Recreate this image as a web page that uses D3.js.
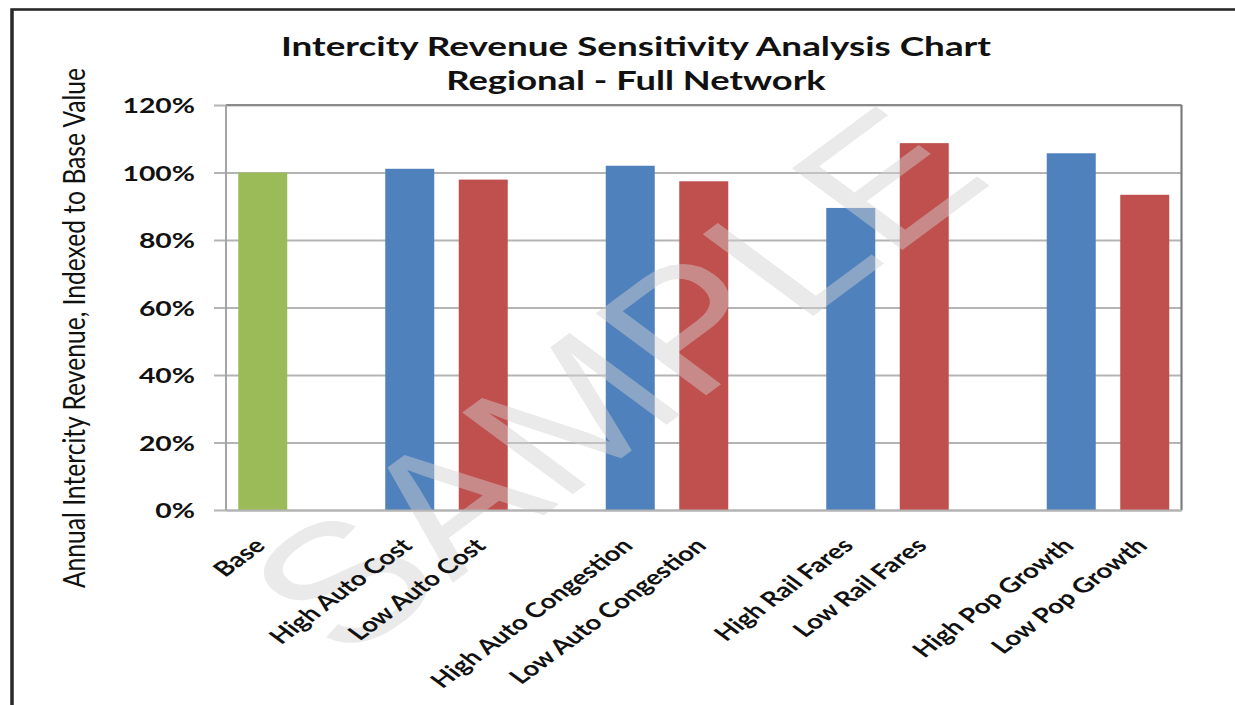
<!DOCTYPE html>
<html><head><meta charset="utf-8">
<script src="https://cdn.jsdelivr.net/npm/d3@7"></script>
<style>html,body{margin:0;padding:0;background:#fff;overflow:hidden}</style>
</head><body>
<svg id="chart" width="1235" height="705"></svg>
<script>
// ---- data ----
const categories = ["Base", "", "High Auto Cost", "Low Auto Cost", "", "High Auto Congestion", "Low Auto Congestion", "", "High Rail Fares", "Low Rail Fares", "", "High Pop Growth", "Low Pop Growth"];
const values = [1.000, null, 1.011, 0.979, null, 1.020, 0.974, null, 0.895, 1.087, null, 1.057, 0.934];
const scenarioType = ["base", null, "high", "low", null, "high", "low", null, "high", "low", null, "high", "low"];
const yTickValues = [0, 0.2, 0.4, 0.6, 0.8, 1.0, 1.2];
const titleLines = ["Intercity Revenue Sensitivity Analysis Chart", "Regional - Full Network"];
const yAxisTitle = "Annual Intercity Revenue, Indexed to Base Value";
const watermarkText = "SAMPLE";
const typeColors = {base: "#9BBB59", high: "#4F81BD", low: "#C0504D"};

// ---- layout (reference is horizontally stretched) ----
const SX = 1.35, W = 1235 / SX, H = 705;
const px = v => v / SX;
const pLeft = px(226), pRight = px(1181.5), pTop = 105, pBottom = 510;

const svg = d3.select("#chart")
  .attr("viewBox", `0 0 ${W} ${H}`)
  .attr("preserveAspectRatio", "none");

svg.append("rect").attr("width", W).attr("height", H).attr("fill", "#fff");

// outer frame
svg.append("rect")
  .attr("x", px(12)).attr("y", 9.5)
  .attr("width", W + 20).attr("height", H + 20)
  .attr("fill", "none").attr("stroke", "#2a2a2a").attr("stroke-width", 2.6);

const x = d3.scaleBand()
  .domain(d3.range(categories.length))
  .range([pLeft, pRight])
  .paddingInner(1 / 3).paddingOuter(1 / 6);
const y = d3.scaleLinear().domain([0, 1.2]).range([pBottom, pTop]);

// gridlines + y labels
const yAxis = svg.append("g")
  .attr("transform", `translate(${pLeft},0)`)
  .call(d3.axisLeft(y).tickValues(yTickValues).tickFormat(d3.format(".0%")).tickSizeOuter(0));
yAxis.select(".domain").remove();
yAxis.selectAll(".tick line")
  .attr("x1", -(226 - 214) / SX).attr("x2", pRight - pLeft)
  .attr("stroke", "#b4b4b4").attr("stroke-width", 1.8);
yAxis.selectAll(".tick text")
  .attr("x", -(226 - 195) / SX).attr("dy", "0.36em")
  .attr("text-anchor", "end")
  .style("font-family", "Lato, 'Open Sans', sans-serif")
  .style("font-weight", 700).style("font-size", "21px").attr("fill", "#111");

// plot border (top/right darker, left axis)
svg.append("line").attr("x1", pLeft).attr("x2", pRight).attr("y1", pTop).attr("y2", pTop)
  .attr("stroke", "#8a8a8a").attr("stroke-width", 2);
svg.append("line").attr("x1", pRight).attr("x2", pRight).attr("y1", pTop).attr("y2", pBottom)
  .attr("stroke", "#7a7a7a").attr("stroke-width", 1.6);
svg.append("line").attr("x1", pLeft).attr("x2", pLeft).attr("y1", pTop).attr("y2", pBottom)
  .attr("stroke", "#a0a0a0").attr("stroke-width", 1.4);

// bars
const idx = d3.range(categories.length).filter(i => values[i] != null);
svg.append("g").selectAll("rect").data(idx).join("rect")
  .attr("x", i => x(i))
  .attr("width", x.bandwidth())
  .attr("y", i => y(values[i]))
  .attr("height", i => y(0) - y(values[i]))
  .attr("fill", i => typeColors[scenarioType[i]]);

// watermark
svg.append("text")
  .attr("transform", `translate(${px(615)},380) rotate(-45)`)
  .attr("text-anchor", "middle").attr("dominant-baseline", "central")
  .style("font-family", "'Liberation Sans', Arial, sans-serif")
  .style("font-size", "168px")
  .attr("fill", "#d2d2d2").attr("opacity", 0.45)
  .text(watermarkText);

// x axis
const xAxis = svg.append("g")
  .attr("transform", `translate(0,${pBottom})`)
  .call(d3.axisBottom(x).tickFormat(i => categories[i]).tickSize(0));
xAxis.select(".domain").attr("stroke", "#b4b4b4").attr("stroke-width", 1.8);
xAxis.selectAll(".tick text")
  .attr("y", 0).attr("dy", 0)
  .attr("text-anchor", "end")
  .attr("transform", "translate(3,37) rotate(-45)")
  .style("font-family", "Lato, 'Open Sans', sans-serif")
  .style("font-weight", 700).style("font-size", "20.5px").attr("fill", "#111");

// title
const titleY = [56, 90.5];
const titleLen = [526, 281];
titleLines.forEach((t, k) => {
  svg.append("text")
    .attr("x", px(636)).attr("y", titleY[k])
    .attr("text-anchor", "middle")
    .attr("textLength", titleLen[k]).attr("lengthAdjust", "spacingAndGlyphs")
    .style("font-family", "Lato, 'Open Sans', sans-serif")
    .style("font-weight", 700).style("font-size", "26px").attr("fill", "#111")
    .text(t);
});

// y-axis title
svg.append("text")
  .attr("transform", `translate(${px(85)},328) rotate(-90)`)
  .attr("text-anchor", "middle")
  .attr("textLength", 520).attr("lengthAdjust", "spacingAndGlyphs")
  .style("font-family", "Lato, 'Open Sans', sans-serif")
  .style("font-size", "23px").attr("fill", "#111")
  .text(yAxisTitle);
</script>
</body></html>
